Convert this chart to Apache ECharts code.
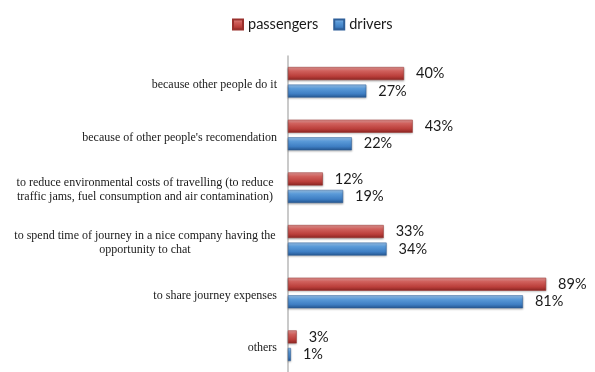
<!DOCTYPE html>
<html>
<head>
<meta charset="utf-8">
<script src="https://cdn.jsdelivr.net/npm/echarts@6/dist/echarts.min.js"></script>
<style>html,body{margin:0;padding:0;background:#fff}#c{width:595px;height:372px}</style>
</head>
<body>
<div id="c"></div>
<script>
var categories = [
  "because other people do it",
  "because of other people's recomendation",
  "to reduce environmental costs of travelling (to reduce\ntraffic jams, fuel consumption and air contamination)",
  "to spend time of journey in a nice company having the\nopportunity to chat",
  "to share journey expenses",
  "others"
];
var passengers = [40, 43, 12, 33, 89, 3];
var drivers = [27, 22, 19, 34, 81, 1];
var seriesNames = ["passengers", "drivers"];

var chart = echarts.init(document.getElementById('c'), null, {renderer: 'canvas'});

function grad(c1, c2, c3, c4) {
  return new echarts.graphic.LinearGradient(0, 0, 0, 1, [
    {offset: 0, color: c1},
    {offset: 0.3, color: c2},
    {offset: 0.7, color: c3},
    {offset: 1, color: c4}
  ]);
}

var labelStyle = {
  show: true, position: 'right', distance: 12,
  formatter: '{c}%', color: '#1a1a1a',
  fontFamily: 'Lato', fontSize: 14.5
};

chart.setOption({
  animation: false,
  backgroundColor: '#fff',
  legend: {
    top: 12, left: 227,
    icon: 'rect', itemWidth: 10, itemHeight: 10, itemGap: 15,
    textStyle: {fontFamily: 'Lato', fontSize: 14.5, color: '#1a1a1a'},
    data: seriesNames
  },
  grid: {left: 288, top: 56, width: 290, height: 318, containLabel: false},
  xAxis: {
    type: 'value', min: 0, max: 100, show: false
  },
  yAxis: {
    type: 'category', inverse: true, data: categories,
    axisLine: {show: true, lineStyle: {color: '#b8b8b8', width: 1.5}},
    axisTick: {show: false},
    axisLabel: {
      margin: 11,
      fontFamily: 'Liberation Serif', fontSize: 12, color: '#1a1a1a',
      padding: [5, 0, 0, 0],
      formatter: function (v) {
        if (v.indexOf('\n') >= 0) {
          return v.split('\n').map(function (l) { return '{c|' + l + '}'; }).join('\n');
        }
        return v;
      },
      rich: {
        c: {width: 264, align: 'center', fontFamily: 'Liberation Serif', fontSize: 12, color: '#1a1a1a', lineHeight: 14}
      }
    }
  },
  series: [
    {
      name: seriesNames[0], type: 'bar', data: passengers,
      barWidth: 13, barGap: '35%',
      itemStyle: {
        color: grad('#e59a98', '#d0605c', '#bb3f3b', '#8a2522'),
        borderColor: '#9a302d', borderWidth: 0.5,
        shadowColor: 'rgba(0,0,0,0.3)', shadowBlur: 2, shadowOffsetY: 1
      },
      label: labelStyle
    },
    {
      name: seriesNames[1], type: 'bar', data: drivers,
      barWidth: 13, barGap: '35%',
      itemStyle: {
        color: grad('#9cc6ee', '#5a9ad8', '#3f7fc4', '#24558f'),
        borderColor: '#2e5f99', borderWidth: 0.5,
        shadowColor: 'rgba(0,0,0,0.3)', shadowBlur: 2, shadowOffsetY: 1
      },
      label: labelStyle
    }
  ],
  color: ['#c0504d', '#4f81bd']
});
</script>
</body>
</html>
